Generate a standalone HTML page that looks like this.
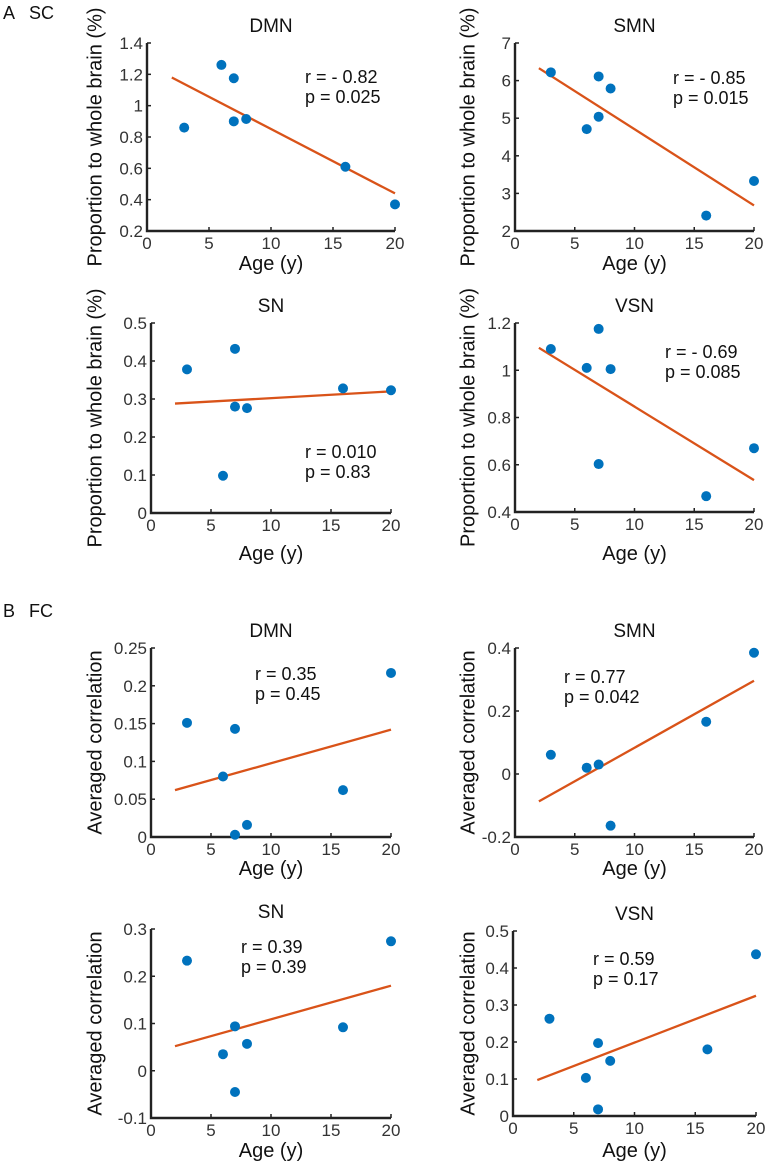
<!DOCTYPE html>
<html><head><meta charset="utf-8"><style>
html,body{margin:0;padding:0;background:#fff;}
svg{display:block;font-family:"Liberation Sans",Arial,sans-serif;}
</style></head><body>
<svg id="fig" width="767" height="1166" viewBox="0 0 767 1166" xmlns="http://www.w3.org/2000/svg">
<text x="3" y="19" font-size="18" fill="#111">A</text>
<text x="29" y="19" font-size="18" fill="#111">SC</text>
<text x="3" y="617" font-size="18" fill="#111">B</text>
<text x="29" y="617" font-size="18" fill="#111">FC</text>
</svg>
<script>
// ---- data ----
const ageTicks = [0,5,10,15,20];
const scDmnAges = [3,6,7,7,8,16,20];
const scDmnVals = [0.86,1.26,1.175,0.90,0.915,0.61,0.37];
const scDmnFit = [1.18,0.44];
const scSmnAges = [3,6,7,7,8,16,20];
const scSmnVals = [6.22,4.71,6.11,5.04,5.79,2.41,3.33];
const scSmnFit = [6.33,2.68];
const scSnAges = [3,6,7,7,8,16,20];
const scSnVals = [0.378,0.098,0.432,0.28,0.276,0.328,0.323];
const scSnFit = [0.288,0.32];
const scVsnAges = [3,6,7,7,8,16,20];
const scVsnVals = [1.09,1.01,1.175,0.603,1.005,0.467,0.67];
const scVsnFit = [1.095,0.535];
const fcDmnAges = [3,6,7,7,8,16,20];
const fcDmnVals = [0.151,0.080,0.143,0.003,0.016,0.062,0.217];
const fcDmnFit = [0.062,0.142];
const fcSmnAges = [3,6,7,8,16,20];
const fcSmnVals = [0.061,0.020,0.030,-0.164,0.166,0.385];
const fcSmnFit = [-0.087,0.296];
const fcSnAges = [3,6,7,7,8,16,20];
const fcSnVals = [0.233,0.035,0.094,-0.045,0.057,0.092,0.274];
const fcSnFit = [0.052,0.18];
const fcVsnAges = [3,6,7,7,8,16,20];
const fcVsnVals = [0.263,0.103,0.197,0.018,0.149,0.18,0.437];
const fcVsnFit = [0.097,0.325];
const fitAges = [2,20];
const tickDmnSc = ['0.2','0.4','0.6','0.8','1','1.2','1.4'];
const tickSmnSc = ['2','3','4','5','6','7'];
const tickSnSc = ['0','0.1','0.2','0.3','0.4','0.5'];
const tickVsnSc = ['0.4','0.6','0.8','1','1.2'];
const tickDmnFc = ['0','0.05','0.1','0.15','0.2','0.25'];
const tickSmnFc = ['-0.2','0','0.2','0.4'];
const tickSnFc = ['-0.1','0','0.1','0.2','0.3'];
const tickVsnFc = ['0','0.1','0.2','0.3','0.4','0.5'];

const NS='http://www.w3.org/2000/svg';
const svg=document.getElementById('fig');
function mk(tag,attrs,parent){const e=document.createElementNS(NS,tag);for(const k in attrs)e.setAttribute(k,attrs[k]);(parent||svg).appendChild(e);return e;}

const panels=[
 {id:'sc-dmn',title:'DMN',L:147,R:395,T:43,B:231,ticks:tickDmnSc,ages:scDmnAges,vals:scDmnVals,fit:scDmnFit,r:'r = - 0.82',p:'p = 0.025',ax:305,ay:83,yl:'Proportion to whole brain (%)',ylx:96,xly:270},
 {id:'sc-smn',title:'SMN',L:515,R:754,T:43,B:231,ticks:tickSmnSc,ages:scSmnAges,vals:scSmnVals,fit:scSmnFit,r:'r = - 0.85',p:'p = 0.015',ax:673,ay:84,yl:'Proportion to whole brain (%)',ylx:469,xly:270},
 {id:'sc-sn',title:'SN',L:151,R:391,T:323,B:513,ticks:tickSnSc,ages:scSnAges,vals:scSnVals,fit:scSnFit,r:'r = 0.010',p:'p = 0.83',ax:305,ay:458,yl:'Proportion to whole brain (%)',ylx:96,xly:560},
 {id:'sc-vsn',title:'VSN',L:515,R:754,T:323,B:512,ticks:tickVsnSc,ages:scVsnAges,vals:scVsnVals,fit:scVsnFit,r:'r = - 0.69',p:'p = 0.085',ax:665,ay:358,yl:'Proportion to whole brain (%)',ylx:469,xly:560},
 {id:'fc-dmn',title:'DMN',L:151,R:391,T:648,B:837,ticks:tickDmnFc,ages:fcDmnAges,vals:fcDmnVals,fit:fcDmnFit,r:'r = 0.35',p:'p = 0.45',ax:255,ay:680,yl:'Averaged correlation',ylx:96,xly:875},
 {id:'fc-smn',title:'SMN',L:515,R:754,T:648,B:837,ticks:tickSmnFc,ages:fcSmnAges,vals:fcSmnVals,fit:fcSmnFit,r:'r = 0.77',p:'p = 0.042',ax:564,ay:683,yl:'Averaged correlation',ylx:469,xly:875},
 {id:'fc-sn',title:'SN',L:151,R:391,T:929,B:1118,ticks:tickSnFc,ages:fcSnAges,vals:fcSnVals,fit:fcSnFit,r:'r = 0.39',p:'p = 0.39',ax:241,ay:953,yl:'Averaged correlation',ylx:96,xly:1157},
 {id:'fc-vsn',title:'VSN',L:513,R:756,T:931,B:1116,ticks:tickVsnFc,ages:fcVsnAges,vals:fcVsnVals,fit:fcVsnFit,r:'r = 0.59',p:'p = 0.17',ax:593,ay:965,yl:'Averaged correlation',ylx:469,xly:1157}
];

panels.forEach(P=>{
 const g=mk('g',{});
 
 
 const tv=P.ticks.map(Number);const ymin=tv[0],ymax=tv[tv.length-1];
 const X=a=>P.L+(a-0)/(20-0)*(P.R-P.L);
 const Y=v=>P.B-(v-ymin)/(ymax-ymin)*(P.B-P.T);
 const cx=(P.L+P.R)/2;
 const t=mk('text',{x:cx,y:P.T-11,'font-size':19,'text-anchor':'middle',fill:'#111'},g);t.textContent=P.title;
 
 
 const ax=mk('path',{d:`M${P.L},${P.T} V${P.B} H${P.R}`,stroke:'#222','stroke-width':2.4,fill:'none'},g);
 
 
 ageTicks.forEach(a=>{
  mk('line',{x1:X(a),x2:X(a),y1:P.B,y2:P.B-4,stroke:'#222','stroke-width':1.5},g);
  const tx=mk('text',{x:X(a),y:P.B+18,'font-size':17,'text-anchor':'middle',fill:'#333'},g);tx.textContent=a;
  
  
 });
 P.ticks.forEach((s,i)=>{
  const y=Y(tv[i]);
  mk('line',{x1:P.L,x2:P.L+4,y1:y,y2:y,stroke:'#222','stroke-width':1.5},g);
  const ty=mk('text',{x:P.L-4,y:y+6,'font-size':17,'text-anchor':'end',fill:'#333'},g);ty.textContent=s;
  
  
 });
 const xl=mk('text',{x:cx,y:P.xly,'font-size':20,'text-anchor':'middle',fill:'#111'},g);xl.textContent='Age (y)';
 
 
 const ym=(P.T+P.B)/2;
 const yl=mk('text',{x:P.ylx,y:ym,'font-size':20,'text-anchor':'middle',fill:'#111',transform:`rotate(-90 ${P.ylx} ${ym})`,'dominant-baseline':'middle'},g);yl.textContent=P.yl;
 
 
 const fl=mk('line',{x1:X(fitAges[0]),y1:Y(P.fit[0]),x2:X(fitAges[1]),y2:Y(P.fit[1]),stroke:'#D95319','stroke-width':2.3},g);
 
 
 P.ages.forEach((a,i)=>{
  const c=mk('circle',{cx:X(a),cy:Y(P.vals[i]),r:5,fill:'#0072BD'},g);
  
  
 });
 const r=mk('text',{x:P.ax,y:P.ay,'font-size':18,fill:'#111'},g);r.textContent=P.r;
 
 
 const p=mk('text',{x:P.ax,y:P.ay+20,'font-size':18,fill:'#111'},g);p.textContent=P.p;
 
 
});
</script>
</body></html>
